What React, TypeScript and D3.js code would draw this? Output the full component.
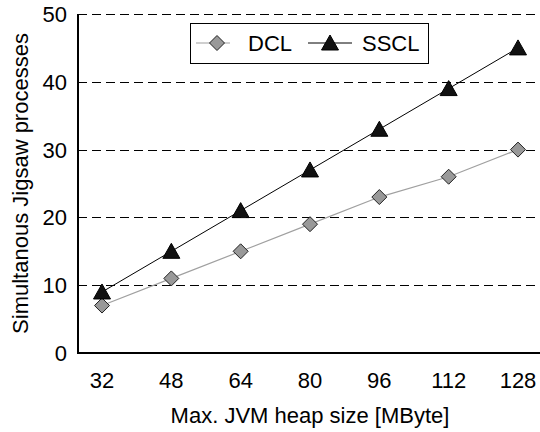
import { useRef, useEffect } from "react";
import * as d3 from "d3";

const heapSizes = ["32", "48", "64", "80", "96", "112", "128"];
const dclValues = [7, 11, 15, 19, 23, 26, 30];
const ssclValues = [9, 15, 21, 27, 33, 39, 45];
const yTicks = [0, 10, 20, 30, 40, 50];

const W = 540, H = 432;
const FONT = "'Liberation Sans', Arial, sans-serif";
const FS = 22;

function drawChart(el: SVGSVGElement) {
  const left = 78, top = 14, bottom = 353;
  const svg = d3.select(el);
  svg.selectAll("*").remove();

  const x = d3.scalePoint<string>()
    .domain(heapSizes)
    .range([102, 518]);
  const y = d3.scaleLinear().domain([0, 50]).range([bottom, top]);

  // gridlines
  svg.append("g")
    .selectAll("line")
    .data(yTicks.filter(d => d > 0))
    .join("line")
    .attr("x1", left)
    .attr("x2", W)
    .attr("y1", d => Math.round(y(d)) + 0.5)
    .attr("y2", d => Math.round(y(d)) + 0.5)
    .attr("stroke", "#000")
    .attr("stroke-dasharray", "9,5");

  // y labels
  svg.append("g")
    .selectAll("text")
    .data(yTicks)
    .join("text")
    .attr("x", 67)
    .attr("y", d => y(d))
    .attr("dy", "0.36em")
    .attr("text-anchor", "end")
    .attr("font-family", FONT)
    .attr("font-size", FS)
    .text(d => d);

  // x labels
  svg.append("g")
    .selectAll("text")
    .data(heapSizes)
    .join("text")
    .attr("x", d => x(d)!)
    .attr("y", 388)
    .attr("text-anchor", "middle")
    .attr("font-family", FONT)
    .attr("font-size", FS)
    .text(d => d);

  // axis lines
  svg.append("line")
    .attr("x1", left).attr("x2", left)
    .attr("y1", top).attr("y2", y(0))
    .attr("stroke", "#000").attr("stroke-width", 2);
  svg.append("line")
    .attr("x1", left - 1).attr("x2", W)
    .attr("y1", y(0)).attr("y2", y(0))
    .attr("stroke", "#000").attr("stroke-width", 2);

  // titles
  svg.append("text")
    .attr("x", 310)
    .attr("y", 423)
    .attr("text-anchor", "middle")
    .attr("font-family", FONT)
    .attr("font-size", FS)
    .text("Max. JVM heap size [MByte]");
  svg.append("text")
    .attr("transform", `translate(28,${(top + bottom) / 2}) rotate(-90)`)
    .attr("text-anchor", "middle")
    .attr("font-family", FONT)
    .attr("font-size", FS)
    .text("Simultanous Jigsaw processes");

  const line = d3.line<number>()
    .x((_, i) => x(heapSizes[i])!)
    .y(d => y(d));

  const diamond = "M0,-7.5L7.5,0L0,7.5L-7.5,0Z";
  const triangle = "M0,-8L8.5,7L-8.5,7Z";

  svg.append("path")
    .attr("d", line(dclValues))
    .attr("fill", "none")
    .attr("stroke", "#a0a0a0")
    .attr("stroke-width", 1.2);
  svg.append("path")
    .attr("d", line(ssclValues))
    .attr("fill", "none")
    .attr("stroke", "#000")
    .attr("stroke-width", 1);

  svg.append("g")
    .selectAll("path")
    .data(dclValues)
    .join("path")
    .attr("transform", (d, i) => `translate(${x(heapSizes[i])},${y(d)})`)
    .attr("d", diamond)
    .attr("fill", "#999")
    .attr("stroke", "#222")
    .attr("stroke-width", 1);
  svg.append("g")
    .selectAll("path")
    .data(ssclValues)
    .join("path")
    .attr("transform", (d, i) => `translate(${x(heapSizes[i])},${y(d)})`)
    .attr("d", triangle)
    .attr("fill", "#111")
    .attr("stroke", "#000")
    .attr("stroke-width", 1);

  // legend
  const lg = svg.append("g");
  lg.append("rect")
    .attr("x", 190.5).attr("y", 23.5)
    .attr("width", 238).attr("height", 40)
    .attr("fill", "#fff").attr("stroke", "#000");
  const ly = 43;
  lg.append("line").attr("x1", 196).attr("x2", 230).attr("y1", ly).attr("y2", ly)
    .attr("stroke", "#a0a0a0").attr("stroke-width", 1.2);
  lg.append("path").attr("transform", `translate(217,${ly})`).attr("d", diamond)
    .attr("fill", "#999").attr("stroke", "#222");
  lg.append("text").attr("x", 248).attr("y", ly).attr("dy", "0.36em")
    .attr("font-family", FONT).attr("font-size", FS).text("DCL");
  lg.append("line").attr("x1", 308).attr("x2", 352).attr("y1", ly).attr("y2", ly)
    .attr("stroke", "#000");
  lg.append("path").attr("transform", `translate(330,${ly})`).attr("d", triangle)
    .attr("fill", "#111").attr("stroke", "#000");
  lg.append("text").attr("x", 362).attr("y", ly).attr("dy", "0.36em")
    .attr("font-family", FONT).attr("font-size", FS).text("SSCL");
}

export default function App() {
  const ref = useRef<SVGSVGElement>(null);
  useEffect(() => {
    if (ref.current) drawChart(ref.current);
  }, []);
  return (
    <svg
      ref={ref}
      width={W}
      height={H}
      style={{ position: "absolute", left: 0, top: 0, background: "#fff" }}
    />
  );
}
